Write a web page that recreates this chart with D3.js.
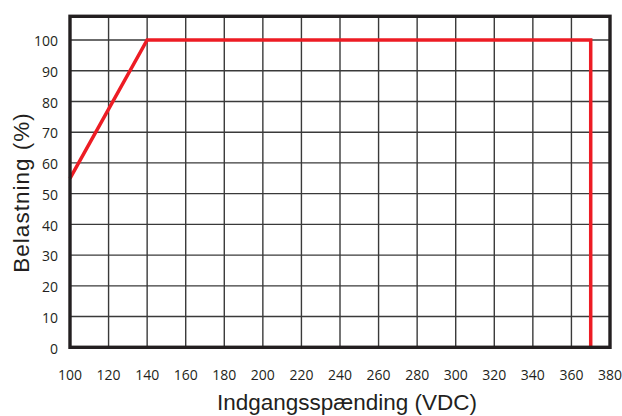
<!DOCTYPE html>
<html><head><meta charset="utf-8">
<script src="https://cdn.jsdelivr.net/npm/d3@7"></script>
<style>body{margin:0;background:#fff}svg{display:block}</style>
</head><body>
<svg id="c" width="622" height="416"></svg>
<script>
const xTicks = [100,120,140,160,180,200,220,240,260,280,300,320,340,360,380];
const yTicks = [0,10,20,30,40,50,60,70,80,90,100];
const curveX = [100, 140, 370, 370];
const curveY = [55, 100, 100, 0];
const xTitle = "Indgangsspænding (VDC)";
const yTitle = "Belastning (%)";

const svg = d3.select("#c");
const L = 70, R = 610, T = 16.3, B = 347.3;
const x = d3.scaleLinear().domain([100,380]).range([L,R]);
const y = d3.scaleLinear().domain([0,100]).range([B,40]);

// grid
svg.append("g").selectAll("line").data(xTicks.slice(1,-1)).join("line")
  .attr("x1",d=>x(d)).attr("x2",d=>x(d)).attr("y1",T).attr("y2",B)
  .attr("stroke","#3a3a3a").attr("stroke-width",1.4);
svg.append("g").selectAll("line").data(yTicks.slice(1)).join("line")
  .attr("x1",L).attr("x2",R).attr("y1",d=>y(d)).attr("y2",d=>y(d))
  .attr("stroke","#3a3a3a").attr("stroke-width",1.4);

// curve
const pts = curveX.map((v,i)=>[v,curveY[i]]);
svg.append("path").datum(pts)
  .attr("d", d3.line().x(d=>x(d[0])).y(d=>y(d[1])))
  .attr("fill","none").attr("stroke","#ed1c24").attr("stroke-width",3.5);

// frame
svg.append("rect").attr("x",L).attr("y",T).attr("width",R-L).attr("height",B-T)
  .attr("fill","none").attr("stroke","#231f20").attr("stroke-width",3.4);

// tick labels
const font = "'Open Sans', 'Noto Sans', sans-serif";
svg.append("g").selectAll("text").data(yTicks).join("text")
  .attr("x",58).attr("y",d=>y(d)).attr("dy","0.45em")
  .attr("text-anchor","end").attr("font-family",font).attr("font-size",14)
  .attr("fill","#231f20").text(d=>d);
svg.append("g").selectAll("text").data(xTicks).join("text")
  .attr("x",d=>x(d)).attr("y",379.5)
  .attr("text-anchor","middle").attr("font-family",font).attr("font-size",14)
  .attr("fill","#231f20").text(d=>d);

// titles
const tfont = "'Liberation Sans', Arial, sans-serif";
svg.append("text").attr("x",347).attr("y",409.5)
  .attr("text-anchor","middle").attr("font-family",tfont)
  .attr("font-size",22.5).attr("fill","#231f20").text(xTitle);
svg.append("text").attr("transform",`translate(29,192.5) rotate(-90)`)
  .attr("text-anchor","middle").attr("font-family",tfont)
  .attr("font-size",22.5).attr("letter-spacing",1).attr("fill","#231f20").text(yTitle);
</script>
</body></html>
